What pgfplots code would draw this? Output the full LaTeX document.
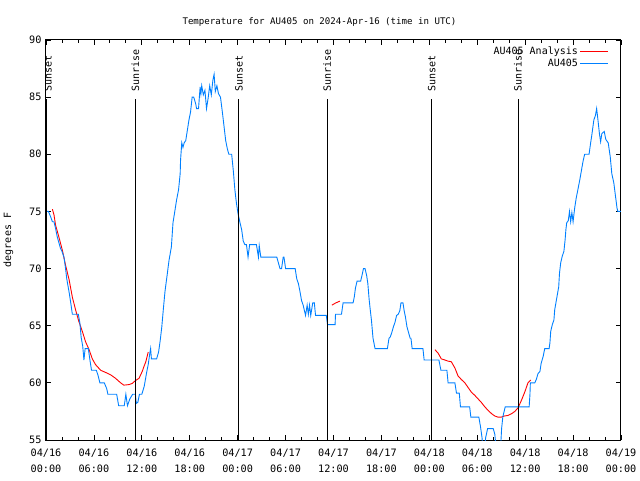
\documentclass[border=0pt]{standalone}
\usepackage{pgfplots}
\pgfplotsset{compat=1.18}
\usepackage{fontspec}
\setmainfont{DejaVu Sans Mono}
\definecolor{gpblue}{RGB}{0,128,255}
\begin{document}
\fontsize{10}{11}\selectfont
\begin{tikzpicture}[x=1pt,y=1pt]
\useasboundingbox (-46,-40) rectangle (594,440);
\begin{axis}[
  at={(0,0)}, anchor=south west,
  scale only axis, width=575pt, height=400pt,
  xmin=0, xmax=72, ymin=55, ymax=90,
  xtick={0,6,...,72},
  xticklabels={{04/16\\00:00},{04/16\\06:00},{04/16\\12:00},{04/16\\18:00},{04/17\\00:00},{04/17\\06:00},{04/17\\12:00},{04/17\\18:00},{04/18\\00:00},{04/18\\06:00},{04/18\\12:00},{04/18\\18:00},{04/19\\00:00}},
  xticklabel style={align=center, font=\fontsize{10.2}{16}\selectfont, yshift=-5pt},
  minor x tick num=2,
  ytick={55,60,...,90},
  yticklabel style={font=\fontsize{10.2}{11}\selectfont, xshift=-1pt},
  /pgf/number format/assume math mode=true,
  tick align=inside,
  major tick length=5pt, minor tick length=3pt,
  tick style={black, line width=0.8pt},
  axis line style={black, line width=1pt},
  title={Temperature for AU405 on 2024-Apr-16 (time in UTC)},
  title style={font=\fontsize{9.1}{11}\selectfont, yshift=4pt, xshift=-14pt},
  ylabel={degrees F},
  ylabel style={font=\fontsize{10}{11}\selectfont, yshift=9pt},
  legend style={at={(1,1)}, xshift=-11pt, yshift=-4pt, anchor=north east, draw=none, fill=none, font=\fontsize{10}{11}\selectfont, row sep=-1.5pt, inner sep=1pt},
  legend cell align=right,
  legend plot pos=right,
  legend image code/.code={\draw[#1] (0pt,0pt) -- (28pt,0pt);},
  unbounded coords=jump,
]
\addplot[red, line width=0.9pt] coordinates {
(0.8,75.2) (1.0,74.7) (1.2,73.8) (1.6,72.8) (2.05,71.6) (2.45,70.3) (2.9,69.0) (3.3,67.5) (3.7,66.4) (4.1,65.4) (4.55,64.5) (4.95,63.6) (5.4,62.9) (5.8,62.1) (6.2,61.6) (6.85,61.1) (7.5,60.9) (8.1,60.7) (8.7,60.4) (9.35,60.0) (9.75,59.8) (10.4,59.85) (10.8,59.95) (11.2,60.2) (11.65,60.4) (12.05,61.0) (12.25,61.4) (12.5,61.85) (12.8,62.7)
(12.9,nan)
(35.8,66.8) (36.3,67.0) (36.8,67.15)
(36.9,nan)
(48.7,62.9) (49.1,62.6) (49.5,62.1) (49.95,62.0) (50.35,61.9) (50.75,61.85) (51.2,61.3) (51.6,60.6) (52.0,60.3) (52.45,60.0) (52.85,59.6) (53.25,59.2) (53.7,58.9) (54.1,58.6) (54.5,58.3) (54.95,57.9) (55.35,57.6) (55.8,57.3) (56.2,57.1) (56.6,57.0) (57.0,57.0) (57.4,57.1) (57.85,57.15) (58.3,57.3) (58.7,57.5) (59.1,57.8) (59.55,58.5) (59.95,59.2) (60.35,60.0) (60.7,60.25)
};
\addlegendentry{AU405 Analysis}
\addplot[gpblue, line width=0.9pt] coordinates {
(0.1,75.0) (0.3,75.0) (0.6,74.5) (0.8,74.1) (1.0,74.1) (1.2,73.5) (1.4,72.8) (1.6,72.3) (1.8,71.8) (2.0,71.5) (2.25,71.0) (2.45,70.0) (2.6,69.1) (2.75,68.5) (2.9,67.9) (3.1,67.0) (3.3,66.0) (4.05,66.0) (4.25,65.2) (4.4,64.0) (4.6,63.2) (4.75,62.0) (4.9,63.0) (5.3,63.0) (5.5,62.0) (5.7,61.1) (6.3,61.1) (6.5,60.7) (6.75,60.0) (7.3,60.0) (7.6,59.5) (7.75,59.0) (8.85,59.0) (9.1,58.0) (9.8,58.0) (10.0,59.0) (10.2,58.0) (10.5,58.6) (10.85,59.0) (11.2,59.0) (11.3,58.2) (11.5,58.3) (11.7,59.0) (12.0,59.0) (12.3,59.7) (12.45,60.3) (12.6,60.9) (12.8,61.6) (13.0,62.6) (13.1,63.0) (13.2,62.1) (13.85,62.1) (14.1,62.7) (14.3,63.7) (14.5,64.9) (14.7,66.5) (14.9,68.0) (15.2,69.6) (15.4,70.7) (15.7,71.9) (15.9,74.0) (16.15,75.1) (16.35,76.0) (16.6,76.9) (16.8,78.3) (16.85,79.5) (17.0,81.0) (17.15,80.6) (17.3,81.0) (17.5,81.2) (17.7,82.1) (17.9,83.0) (18.1,83.7) (18.3,85.0) (18.5,85.0) (18.75,84.4) (18.85,84.0) (19.1,84.0) (19.3,85.9) (19.4,85.3) (19.5,86.0) (19.7,85.2) (19.9,85.6) (20.1,84.0) (20.3,84.9) (20.5,86.0) (20.7,85.2) (20.9,86.5) (21.05,87.0) (21.2,85.5) (21.4,86.0) (21.6,85.3) (21.85,85.0) (22.1,83.6) (22.3,82.4) (22.5,81.2) (22.7,80.5) (22.9,80.0) (23.25,80.0) (23.45,78.6) (23.65,76.9) (23.85,75.7) (24.05,74.8) (24.3,74.0) (24.5,73.4) (24.7,72.4) (24.9,72.1) (25.1,72.1) (25.3,71.0) (25.5,72.1) (26.35,72.1) (26.6,71.0) (26.7,72.0) (26.9,71.0) (28.9,71.0) (29.1,70.5) (29.3,70.0) (29.5,70.0) (29.7,71.0) (29.8,71.0) (30.0,70.0) (31.2,70.0) (31.4,69.1) (31.6,68.7) (31.8,68.0) (32.0,67.2) (32.2,66.8) (32.4,66.2) (32.5,65.9) (32.7,66.8) (32.85,66.0) (33.0,66.8) (33.15,65.9) (33.4,67.0) (33.6,67.0) (33.75,65.9) (35.1,65.9) (35.25,65.1) (36.2,65.1) (36.25,66.0) (37.0,66.0) (37.2,67.0) (38.45,67.0) (38.6,67.5) (38.75,68.3) (38.95,68.9) (39.4,68.9) (39.6,69.5) (39.75,70.0) (39.95,70.0) (40.15,69.4) (40.3,68.7) (40.45,67.4) (40.6,66.4) (40.75,65.5) (40.95,63.9) (41.2,63.0) (42.75,63.0) (42.95,63.9) (43.1,64.0) (43.3,64.4) (43.5,64.9) (43.7,65.3) (43.9,65.9) (44.1,66.0) (44.3,66.3) (44.45,67.0) (44.7,67.0) (44.85,66.3) (45.0,65.8) (45.2,64.9) (45.4,64.4) (45.6,63.9) (45.7,63.9) (45.85,63.0) (47.2,63.0) (47.35,62.0) (49.2,62.0) (49.45,61.1) (50.2,61.1) (50.35,60.0) (51.2,60.0) (51.4,59.1) (51.75,59.1) (51.9,57.9) (53.05,57.9) (53.2,57.0) (54.2,57.0) (54.4,56.2) (54.6,55.2) (54.7,54.0) (54.9,54.0) (55.05,55.2) (55.3,56.0) (56.0,56.0) (56.2,55.5) (56.4,54.0) (56.9,54.0) (57.05,56.0) (57.2,57.0) (57.5,57.9) (60.5,57.9) (60.6,59.0) (60.65,60.0) (61.2,60.0) (61.4,60.3) (61.6,60.8) (61.85,61.0) (62.0,61.7) (62.25,62.3) (62.45,63.0) (63.0,63.0) (63.1,63.5) (63.2,64.5) (63.4,65.1) (63.6,65.5) (63.7,66.4) (63.85,67.0) (64.0,67.6) (64.2,68.4) (64.3,69.6) (64.45,70.5) (64.65,71.1) (64.85,71.5) (65.0,72.5) (65.1,73.4) (65.2,74.0) (65.4,74.2) (65.55,75.0) (65.7,74.1) (65.85,74.9) (66.0,74.1) (66.2,75.3) (66.4,76.2) (66.6,76.9) (66.85,77.8) (67.05,78.6) (67.25,79.4) (67.45,80.0) (68.0,80.0) (68.2,81.0) (68.35,81.7) (68.6,83.0) (68.8,83.4) (68.95,84.0) (69.1,83.1) (69.3,81.8) (69.45,81.1) (69.6,81.8) (69.9,82.0) (70.1,81.3) (70.4,81.0) (70.65,79.8) (70.85,78.3) (71.1,77.5) (71.3,76.4) (71.5,75.3) (71.6,75.0) (72.0,75.0)
};
\addlegendentry{AU405}
% sunrise / sunset lines
\addplot[black, line width=0.9pt, forget plot] coordinates {(0.1,55) (0.1,84.8)};
\addplot[black, line width=0.9pt, forget plot] coordinates {(11.2,55) (11.2,84.8)};
\addplot[black, line width=0.9pt, forget plot] coordinates {(24.15,55) (24.15,84.8)};
\addplot[black, line width=0.9pt, forget plot] coordinates {(35.2,55) (35.2,84.8)};
\addplot[black, line width=0.9pt, forget plot] coordinates {(48.3,55) (48.3,84.8)};
\addplot[black, line width=0.9pt, forget plot] coordinates {(59.1,55) (59.1,84.8)};
\node[rotate=90, anchor=west, inner sep=0pt] at (axis cs:0.25,85.5) {Sunset};
\node[rotate=90, anchor=west, inner sep=0pt] at (axis cs:11.2,85.5) {Sunrise};
\node[rotate=90, anchor=west, inner sep=0pt] at (axis cs:24.15,85.5) {Sunset};
\node[rotate=90, anchor=west, inner sep=0pt] at (axis cs:35.2,85.5) {Sunrise};
\node[rotate=90, anchor=west, inner sep=0pt] at (axis cs:48.3,85.5) {Sunset};
\node[rotate=90, anchor=west, inner sep=0pt] at (axis cs:59.1,85.5) {Sunrise};
\end{axis}
\end{tikzpicture}
\end{document}
